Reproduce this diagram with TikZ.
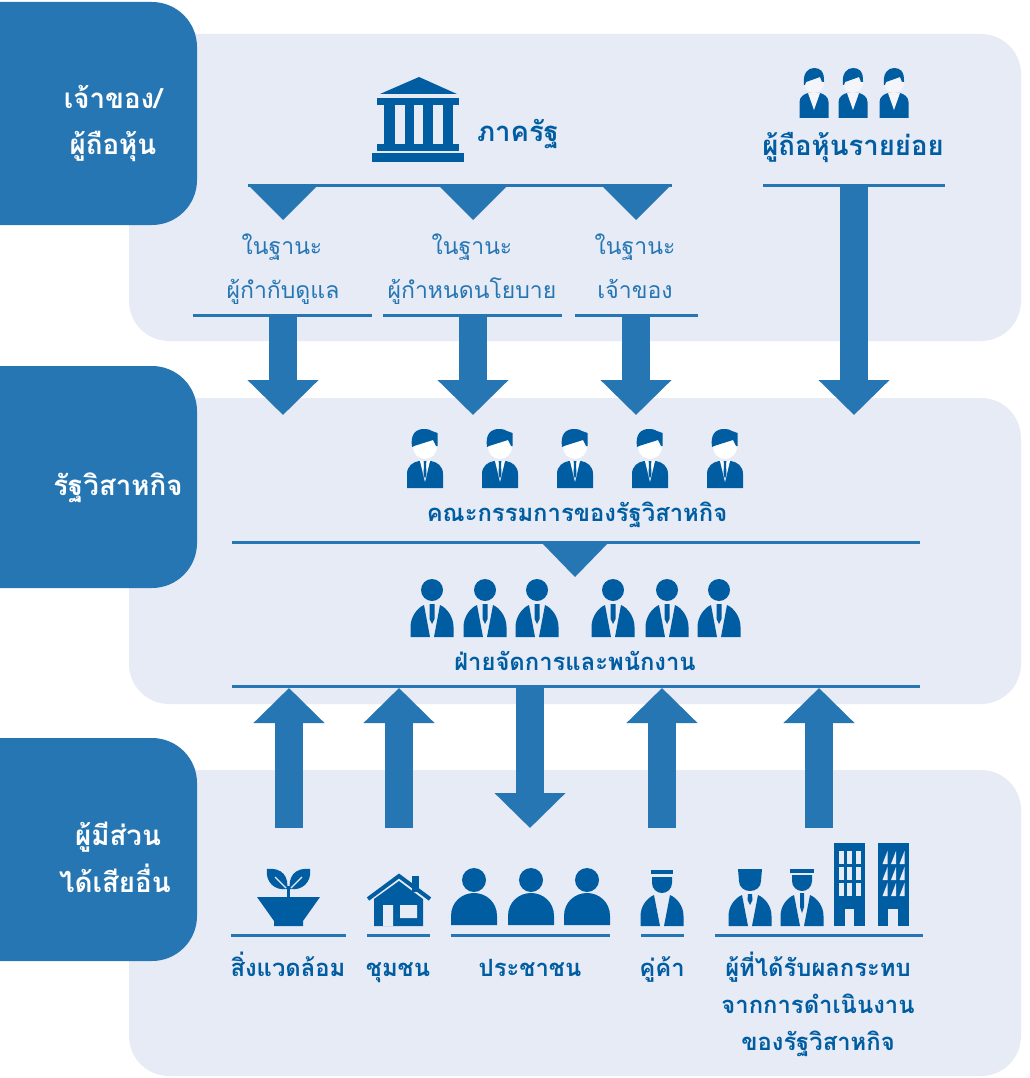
\documentclass[tikz,border=0pt]{standalone}
\usepackage{fontspec}
\newfontfamily\thaifont[Script=Thai]{Loma}
\usetikzlibrary{arrows.meta}
\definecolor{panelblue}{HTML}{E7EBF6}
\definecolor{tabblue}{HTML}{2676B3}
\definecolor{darkblue}{HTML}{005DA2}
\tikzset{
	panel/.style={fill=panelblue, rounded corners=40pt},
	tab/.style={fill=tabblue},
	rule/.style={draw=tabblue, line width=3pt},
	blockarrow/.style={draw=tabblue, line width=28pt, -{Triangle[width=69pt,length=35pt,fill=tabblue]}},
	tablabel/.style={anchor=base, inner sep=0pt, text=white, font=\thaifont\bfseries\fontsize{27.7}{27.7}\selectfont},
	boldlabel/.style={anchor=base, inner sep=0pt, text=darkblue, font=\thaifont\bfseries\fontsize{27.5}{27.5}\selectfont},
	smalllabel/.style={anchor=base, inner sep=0pt, text=darkblue, font=\thaifont\bfseries\fontsize{23.8}{23.8}\selectfont},
	thinlabel/.style={anchor=base, inner sep=0pt, text=tabblue, font=\thaifont\fontsize{23}{23}\selectfont},
	pics/hairman/.style={code={
		\fill[darkblue] (-18,0) -- (-18,-14) .. controls (-18,-22) and (-12,-26) .. (-6,-27) -- (6,-27) .. controls (12,-26) and (18,-22) .. (18,-14) -- (18,0) -- cycle;
		\fill[white] (-5,-27) -- (5,-27) -- (0,-6) -- cycle;
		\fill[darkblue] (-1.5,-27) -- (1.5,-27) -- (1,-24) -- (1.5,-14) -- (0,-9) -- (-1.5,-14) -- (-1,-24) -- cycle;
		\fill[white] (0,-41) ellipse (12 and 12);
		\fill[darkblue] (-13,-41) .. controls (-15,-54) and (-9,-59) .. (-1,-59) .. controls (3,-59) and (6,-58) .. (7,-57) -- (12.5,-55) -- (12.5,-42) -- (11,-42) -- (8,-48) -- (-11,-42) -- cycle;
	}},
	pics/retailman/.style={code={
		\fill[darkblue] (-14.5,0) -- (-14.5,-16) .. controls (-14.5,-21) and (-10,-24) .. (-6,-25) -- (6,-25) .. controls (10,-24) and (14.5,-21) .. (14.5,-16) -- (14.5,0) -- cycle;
		\fill[panelblue!50!white] (-6,-25) -- (6,-25) -- (0,-8) -- cycle;
		\fill[panelblue!50!white] (0,-35) ellipse (10 and 10);
		\fill[darkblue] (-10,-33) .. controls (-11.5,-45) and (-6,-50) .. (0,-50) .. controls (6,-50) and (10.5,-47) .. (10,-36) -- (8,-36) -- (6,-41) -- (-8,-36) -- (-9,-33) -- cycle;
	}},
	pics/tieman/.style={code={
		\fill[darkblue] (0,-47) circle (11);
		\fill[darkblue] (-21.5,0) -- (-21.5,-10) .. controls (-21.5,-20) and (-15,-29) .. (-8,-32) -- (-2,0) -- cycle;
		\fill[darkblue] (21.5,0) -- (21.5,-10) .. controls (21.5,-20) and (15,-29) .. (8,-32) -- (2,0) -- cycle;
		\fill[darkblue] (-2.5,-33) -- (2.5,-33) -- (2.5,-18) -- (0,-13) -- (-2.5,-18) -- cycle;
	}},
	pics/plainbody/.style={code={
		\fill[darkblue] (-21.5,0) -- (-21.5,-10) .. controls (-21.5,-20) and (-15,-28) .. (-8,-31) -- (-2,0) -- cycle;
		\fill[darkblue] (21.5,0) -- (21.5,-10) .. controls (21.5,-20) and (15,-28) .. (8,-31) -- (2,0) -- cycle;
	}},
	pics/citizen/.style={code={
		\fill[darkblue] (0,-45) circle (12);
		\fill[darkblue] (-23,0) -- (-23,-9) .. controls (-23,-23) and (-12,-32) .. (0,-32) .. controls (12,-32) and (23,-23) .. (23,-9) -- (23,0) -- cycle;
	}}
}
\begin{document}
\begin{tikzpicture}[x=1pt, y=-1pt, line join=round]
	\useasboundingbox (0,0) rectangle (1029,1078);
	
	% panels and tabs
	\foreach \ya/\yb in {34/341, 398/704, 770/1076}
		\fill[panel] (129,\ya) rectangle (1021,\yb);
	\foreach \ya/\yb in {2/225, 366/588, 738/961}
		\fill[tab] (0,\ya) [rounded corners=45pt] -- (197,\ya) -- (197,\yb) [sharp corners] -- (0,\yb) -- cycle;
	
	\node[tablabel] (owner) at (113,109) {เจ้าของ/};
	\node[tablabel] (holder) at (113,155) {ผู้ถือหุ้น};
	\node[tablabel] (soe) at (118,495) {รัฐวิสาหกิจ};
	\node[tablabel] (stake) at (118,845) {ผู้มีส่วน};
	\node[tablabel] (others) at (115,892) {ได้เสียอื่น};
	
	% rules
	\foreach \n/\xa/\xb/\y in {
		gov/248/672/186, retail/763/945/186,
		reg/193/372/315, pol/383/562/315, own/575/698/315,
		board/232/920/542, staff/232/920/686,
		env/231/346/935, com/367/430/935, pub/451/610/935,
		sup/641/684/935, aff/715/923/935
	} {
		\coordinate (\n L) at (\xa,\y);
		\coordinate (\n R) at (\xb,\y);
		\draw[rule] (\n L) -- (\n R);
	}
	
	% triangles under the rules
	\foreach \x/\ya/\yb in {283/185/220, 473/185/220, 636/185/220, 575/541/577}
		\fill[tabblue] (\x-35,\ya) -- (\x+35,\ya) -- (\x,\yb) -- cycle;
	
	% block arrows
	\foreach \n/\x/\ya/\yb in {
		a/283/316/415, b/473/316/415, c/636/316/415, d/854/187/415,
		e/289/828/688, f/399/828/688, g/530/688/828, h/662/828/688, i/819/828/688
	} {
		\coordinate (from\n) at (\x,\ya);
		\coordinate (to\n) at (\x,\yb);
		\draw[blockarrow] (from\n) -- (to\n);
	}
	
	% government building
	\fill[darkblue] (380,94) -- (419,77) -- (457,94) -- cycle;
	\fill[darkblue] (377,98) rectangle (459,105);
	\foreach \xa/\xb in {384/395, 405/414, 423/433, 443/453}
		\fill[darkblue] (\xa,105) rectangle (\xb,144);
	\fill[darkblue] (377,144) rectangle (459,151);
	\fill[darkblue] (372,153) rectangle (464,162);
	
	% people
	\foreach \x in {814,853,894}
		\pic at (\x,118) {retailman};
	\foreach \x in {425,500,575,650,725}
		\pic at (\x,488) {hairman};
	\foreach \x in {432,485,537,613,667,719}
		\pic at (\x,637) {tieman};
	\foreach \x in {474,531,587}
		\pic at (\x,925) {citizen};
	
	% plant
	\fill[darkblue] (257,897) -- (320,897) -- (303,921) -- (303,926) -- (274,926) -- (274,921) -- cycle;
	\fill[darkblue] (287,886) rectangle (290,897);
	\fill[darkblue] (267,869) .. controls (283,867) and (289,878) .. (287,889) .. controls (275,891) and (265,882) .. (267,869) -- cycle;
	\fill[darkblue] (310,869) .. controls (294,867) and (288,878) .. (290,889) .. controls (302,891) and (312,882) .. (310,869) -- cycle;
	\draw[panelblue, line width=1.2pt] (275,877) -- (286,888) (302,877) -- (291,888);
	
	% house
	\fill[darkblue] (412,876) rectangle (419,892);
	\fill[darkblue] (374,926) -- (374,899) -- (399,881) -- (423,899) -- (423,926) -- cycle;
	\fill[panelblue] (383,905) rectangle (393,926) (400,905) rectangle (417,918);
	\draw[darkblue, line width=4pt, line join=miter] (368,899) -- (399,876) -- (430,899);
	
	% supplier
	\pic at (662,926) {plainbody};
	\fill[darkblue] (651,870) rectangle (673,874);
	\fill[darkblue] (652,877) -- (672,877) -- (672,883) .. controls (672,889) and (667,893) .. (662,893) .. controls (657,893) and (652,889) .. (652,883) -- cycle;
	
	% affected persons
	\pic at (750,926) {plainbody};
	\fill[darkblue] (738,869) -- (762,869) -- (761,881) .. controls (761,887) and (756,891) .. (750,891) .. controls (744,891) and (739,887) .. (739,881) -- cycle;
	\fill[darkblue] (748,894) -- (752,894) -- (752.5,900) -- (750,905) -- (747.5,900) -- cycle;
	\pic at (802,926) {plainbody};
	\fill[darkblue] (790,869) rectangle (814,873);
	\fill[darkblue] (792,875) -- (812,875) -- (812,881) .. controls (812,887) and (807,891) .. (802,891) .. controls (797,891) and (792,887) .. (792,881) -- cycle;
	\fill[darkblue] (800,893) -- (804,893) -- (804,907) -- (802,913) -- (800,907) -- cycle;
	
	% buildings
	\fill[darkblue] (834,843) rectangle (865,926);
	\fill[darkblue] (878,843) rectangle (909,926);
	\foreach \y in {851,867,883} {
		\foreach \x in {838.5,847,855.5}
			\fill[panelblue] (\x,\y) rectangle (\x+5,\y+13);
		\foreach \x in {882.5,891,899.5}
			\fill[panelblue] (\x,\y+13) -- (\x+5,\y+13) -- (\x+5,\y) -- cycle;
	}
	\fill[panelblue] (845,909) rectangle (854,926);
	\fill[panelblue] (888,909) rectangle (898,926);
	
	% labels
	\node[boldlabel] (state) at (518,142) {ภาครัฐ};
	\node[boldlabel] (minor) at (853,156) {ผู้ถือหุ้นรายย่อย};
	\node[thinlabel] (roleA) at (282,254) {ในฐานะ};
	\node[thinlabel] (regul) at (283,298) {ผู้กำกับดูแล};
	\node[thinlabel] (roleB) at (472,254) {ในฐานะ};
	\node[thinlabel] (polic) at (472,298) {ผู้กำหนดนโยบาย};
	\node[thinlabel] (roleC) at (635,254) {ในฐานะ};
	\node[thinlabel] (ownr) at (635,298) {เจ้าของ};
	\node[smalllabel] (boardtxt) at (577,521) {คณะกรรมการของรัฐวิสาหกิจ};
	\node[smalllabel] (stafftxt) at (575,670) {ฝ่ายจัดการและพนักงาน};
	\foreach \n/\x/\y/\t in {
		envtxt/288/976/สิ่งแวดล้อม, comtxt/398/976/ชุมชน,
		pubtxt/530/976/ประชาชน, suptxt/662/976/คู่ค้า,
		afftxtA/818/976/ผู้ที่ได้รับผลกระทบ,
		afftxtB/818/1013/จากการดำเนินงาน,
		afftxtC/818/1050/ของรัฐวิสาหกิจ
	} \node[smalllabel] (\n) at (\x,\y) {\t};
\end{tikzpicture}
\end{document}
